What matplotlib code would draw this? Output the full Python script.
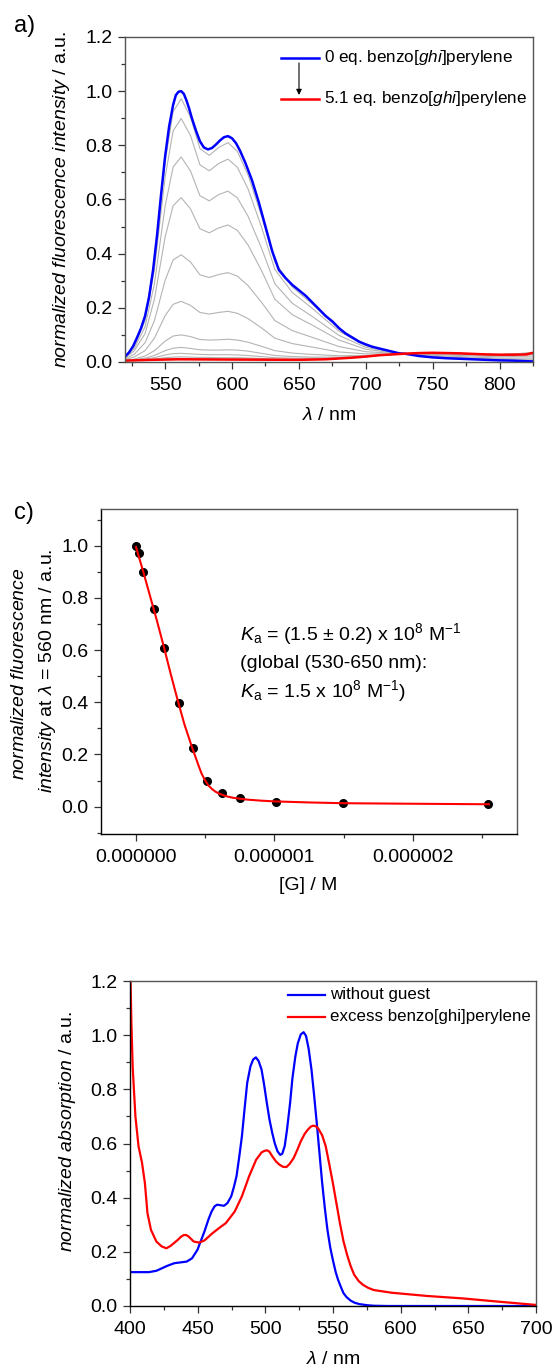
import matplotlib
matplotlib.use("Agg")
import matplotlib.pyplot as plt
from matplotlib.lines import Line2D
from matplotlib.ticker import MultipleLocator, FuncFormatter

plt.rcParams["font.family"] = ["Liberation Sans", "DejaVu Sans"]
plt.rcParams["mathtext.fontset"] = "custom"
plt.rcParams["mathtext.rm"] = "Liberation Sans"
plt.rcParams["mathtext.it"] = "Liberation Sans:italic"
plt.rcParams["mathtext.bf"] = "Liberation Sans:bold"
plt.rcParams["mathtext.sf"] = "Liberation Sans"

W, H = 558, 1371

# ---------------------------------------------------------------- panel a data
blue_wl = [520, 523, 526, 529, 532, 535, 538, 541, 544, 547, 550, 553, 556, 558, 560, 562,
           564, 566, 568, 570, 573, 576, 579, 582, 585, 588, 591, 594, 597, 600, 603, 606,
           610, 615, 620, 625, 630, 635, 640, 645, 650, 655, 660, 665, 670, 675, 680, 685,
           690, 695, 700, 705, 710, 715, 720, 725, 730, 740, 750, 760, 770, 780, 790, 800,
           810, 825]
blue_int = [0.02, 0.035, 0.058, 0.09, 0.125, 0.17, 0.24, 0.34, 0.47, 0.62, 0.76, 0.87, 0.95,
            0.985, 0.998, 1.0, 0.99, 0.965, 0.935, 0.9, 0.855, 0.815, 0.792, 0.785, 0.79,
            0.803, 0.818, 0.83, 0.834, 0.826, 0.808, 0.78, 0.735, 0.67, 0.59, 0.50, 0.41,
            0.34, 0.31, 0.285, 0.265, 0.245, 0.22, 0.195, 0.17, 0.15, 0.125, 0.105, 0.09,
            0.075, 0.065, 0.056, 0.05, 0.044, 0.038, 0.032, 0.03, 0.022, 0.017, 0.014, 0.012,
            0.01, 0.008, 0.006, 0.005, 0.002]

red_wl = [520, 540, 560, 600, 650, 670, 690, 700, 710, 720, 730, 740, 750, 760, 770, 780,
          790, 800, 810, 820, 825]
red_int = [0.005, 0.008, 0.01, 0.009, 0.008, 0.01, 0.016, 0.02, 0.025, 0.028, 0.031, 0.033,
           0.034, 0.033, 0.032, 0.03, 0.028, 0.027, 0.027, 0.028, 0.034]

gray_wl = [520, 527, 535, 542, 550, 556, 562, 569, 576, 583, 590, 597, 604, 612, 622, 632,
           645, 660, 680, 700, 725, 760, 800, 825]
gray_1 = [0.020, 0.063, 0.165, 0.370, 0.739, 0.924, 0.972, 0.904, 0.788, 0.763, 0.792, 0.810,
          0.778, 0.690, 0.540, 0.370, 0.277, 0.214, 0.122, 0.064, 0.032, 0.015, 0.007, 0.003]
gray_2 = [0.018, 0.059, 0.153, 0.342, 0.683, 0.854, 0.899, 0.836, 0.728, 0.706, 0.733, 0.749,
          0.719, 0.639, 0.499, 0.342, 0.257, 0.198, 0.114, 0.060, 0.032, 0.016, 0.008, 0.005]
gray_3 = [0.016, 0.051, 0.130, 0.289, 0.576, 0.720, 0.757, 0.705, 0.614, 0.595, 0.618, 0.631,
          0.606, 0.538, 0.421, 0.289, 0.217, 0.168, 0.098, 0.054, 0.031, 0.019, 0.011, 0.010]
gray_4 = [0.014, 0.042, 0.105, 0.232, 0.462, 0.577, 0.607, 0.565, 0.492, 0.477, 0.495, 0.506,
          0.486, 0.432, 0.338, 0.232, 0.175, 0.136, 0.081, 0.047, 0.031, 0.022, 0.014, 0.015]
gray_5 = [0.011, 0.029, 0.071, 0.153, 0.302, 0.377, 0.396, 0.369, 0.322, 0.312, 0.323, 0.330,
          0.317, 0.282, 0.221, 0.153, 0.116, 0.091, 0.057, 0.038, 0.031, 0.026, 0.019, 0.022]
gray_6 = [0.008, 0.019, 0.042, 0.088, 0.171, 0.213, 0.224, 0.209, 0.183, 0.177, 0.183, 0.187,
          0.180, 0.160, 0.126, 0.088, 0.068, 0.055, 0.037, 0.030, 0.030, 0.029, 0.022, 0.027]
gray_7 = [0.006, 0.011, 0.022, 0.042, 0.077, 0.096, 0.100, 0.094, 0.083, 0.081, 0.082, 0.084,
          0.081, 0.073, 0.058, 0.042, 0.033, 0.028, 0.023, 0.024, 0.030, 0.031, 0.025, 0.031]
gray_8 = [0.006, 0.009, 0.014, 0.024, 0.042, 0.051, 0.054, 0.050, 0.045, 0.044, 0.044, 0.045,
          0.044, 0.040, 0.032, 0.024, 0.020, 0.018, 0.018, 0.022, 0.030, 0.032, 0.026, 0.033]
gray_9 = [0.005, 0.007, 0.011, 0.016, 0.026, 0.031, 0.032, 0.030, 0.028, 0.027, 0.027, 0.027,
          0.026, 0.024, 0.020, 0.016, 0.014, 0.014, 0.015, 0.021, 0.030, 0.033, 0.027, 0.033]
gray_10 = [0.005, 0.006, 0.008, 0.011, 0.016, 0.018, 0.019, 0.018, 0.017, 0.017, 0.016, 0.016,
           0.016, 0.015, 0.013, 0.011, 0.010, 0.011, 0.014, 0.020, 0.030, 0.033, 0.027, 0.034]
gray_11 = [0.005, 0.006, 0.007, 0.009, 0.011, 0.013, 0.013, 0.013, 0.012, 0.012, 0.011, 0.011,
           0.011, 0.011, 0.010, 0.009, 0.009, 0.010, 0.013, 0.020, 0.030, 0.033, 0.027, 0.034]
gray_curves = [gray_1, gray_2, gray_3, gray_4, gray_5, gray_6, gray_7, gray_8, gray_9,
               gray_10, gray_11]

# ---------------------------------------------------------------- panel c data
guest_conc = [0.0, 0.02e-6, 0.054e-6, 0.128e-6, 0.20e-6, 0.308e-6, 0.413e-6, 0.515e-6,
              0.618e-6, 0.754e-6, 1.01e-6, 1.495e-6, 2.546e-6]
rel_int = [1.0, 0.972, 0.899, 0.757, 0.607, 0.396, 0.224, 0.100, 0.054, 0.032, 0.019,
           0.013, 0.009]
fit_conc = [0.0, 0.05e-6, 0.10e-6, 0.15e-6, 0.20e-6, 0.25e-6, 0.30e-6, 0.35e-6, 0.40e-6,
            0.45e-6, 0.475e-6, 0.50e-6, 0.525e-6, 0.55e-6, 0.575e-6, 0.60e-6, 0.65e-6,
            0.70e-6, 0.80e-6, 0.90e-6, 1.0e-6, 1.25e-6, 1.5e-6, 2.0e-6, 2.55e-6]
fit_int = [0.995, 0.905, 0.81, 0.715, 0.615, 0.51, 0.41, 0.315, 0.235, 0.16, 0.125, 0.10,
           0.08, 0.067, 0.057, 0.05, 0.04, 0.034, 0.027, 0.023, 0.02, 0.016, 0.013, 0.011,
           0.009]

# ---------------------------------------------------------------- panel b data
abs_wl_free = [400, 414, 419.5, 427.4, 432.7, 441.9, 445.8, 449.8, 455, 458, 460.3, 462.5,
               464.3, 467, 469.5, 472, 474.8, 476.8, 478.7, 480.7, 482.7, 484.6, 486.6, 489,
               491, 493, 495, 497.2, 499, 501.1, 503, 505.1, 507, 509, 511, 512.5, 514.3, 516,
               518.3, 520, 522.2, 524, 526.2, 528.3, 530.1, 532, 534.1, 536, 538, 540, 542,
               544, 545.9, 548, 549.9, 552, 553.8, 556, 557.8, 560, 563, 566, 569.6, 575, 580,
               590, 600, 700]
abs_free = [0.125, 0.125, 0.13, 0.148, 0.158, 0.164, 0.176, 0.207, 0.275, 0.32, 0.349, 0.368,
            0.374, 0.372, 0.37, 0.38, 0.405, 0.44, 0.479, 0.55, 0.627, 0.725, 0.824, 0.885,
            0.91, 0.918, 0.905, 0.873, 0.82, 0.75, 0.69, 0.639, 0.6, 0.571, 0.558, 0.562,
            0.59, 0.65, 0.75, 0.84, 0.922, 0.97, 1.003, 1.011, 0.997, 0.95, 0.873, 0.78,
            0.676, 0.565, 0.454, 0.36, 0.281, 0.215, 0.17, 0.125, 0.096, 0.068, 0.047, 0.033,
            0.02, 0.012, 0.007, 0.003, 0.001, 0.0, 0.0, 0.0]
abs_wl_guest = [400, 401, 402, 404, 406.3, 408.9, 411, 412.9, 415.5, 419.5, 423.4, 426.9, 430,
                435.3, 437.5, 439.8, 441.5, 443.2, 447.1, 451.1, 455, 460.3, 465.6, 470.8,
                477.4, 482.7, 488, 493.2, 497.2, 499, 501.1, 503, 505.1, 508, 510.4, 513,
                515.6, 518, 520.9, 523.5, 526.2, 529, 531.4, 533.5, 535.4, 537.5, 539.3, 542,
                544.6, 547, 549.9, 552.5, 555.1, 557.7, 560.4, 563, 565.7, 569, 572.2, 576,
                580.1, 593.3, 606.5, 619.6, 646, 672.3, 700]
abs_guest = [1.3, 1.05, 0.88, 0.70, 0.59, 0.528, 0.454, 0.343, 0.281, 0.238, 0.22, 0.213,
             0.222, 0.244, 0.255, 0.262, 0.262, 0.257, 0.238, 0.234, 0.242, 0.266, 0.287,
             0.306, 0.349, 0.405, 0.479, 0.54, 0.567, 0.572, 0.575, 0.57, 0.553, 0.533, 0.522,
             0.514, 0.513, 0.525, 0.546, 0.575, 0.608, 0.635, 0.651, 0.662, 0.666, 0.663,
             0.654, 0.63, 0.59, 0.53, 0.454, 0.38, 0.306, 0.24, 0.189, 0.148, 0.115, 0.092,
             0.078, 0.067, 0.059, 0.049, 0.043, 0.037, 0.028, 0.016, 0.004]

BLUE = "#0000ff"
RED = "#ff0000"
GRAY = "#b4b4b4"
FS = 14


def fpos(x, y):
    return x / W, 1 - y / H


def axes_px(left, top, right, bottom):
    return [left / W, 1 - bottom / H, (right - left) / W, (bottom - top) / H]


def style_axes(ax, spine_color="black"):
    for s in ax.spines.values():
        s.set_linewidth(1.0)
        s.set_color(spine_color)
    ax.tick_params(which="both", direction="out", top=False, right=False,
                   labelsize=FS, width=0.9, color="#333333")
    ax.tick_params(which="major", length=5, pad=4)
    ax.tick_params(which="minor", length=3)
    ax.tick_params(axis="x", which="major", pad=6)


fig = plt.figure(figsize=(W / 100, H / 100), dpi=100)

# ===================================================================== a)
ax_a = fig.add_axes(axes_px(125, 37, 533, 362))
for g in gray_curves:
    ax_a.plot(gray_wl, g, color=GRAY, lw=0.8)
ax_a.plot(blue_wl, blue_int, color=BLUE, lw=1.8)
ax_a.plot(red_wl, red_int, color=RED, lw=1.8)
ax_a.set_xlim(520, 825)
ax_a.set_ylim(0, 1.2)
ax_a.xaxis.set_major_locator(MultipleLocator(50))
ax_a.xaxis.set_minor_locator(MultipleLocator(25))
ax_a.yaxis.set_major_locator(MultipleLocator(0.2))
ax_a.yaxis.set_minor_locator(MultipleLocator(0.1))
ax_a.yaxis.set_major_formatter(FuncFormatter(lambda v, _: f"{v:.1f}"))
style_axes(ax_a, "#555555")

fig.text(*fpos(62, 199), r"$\it{normalized\ fluorescence\ intensity}$ / a.u.",
         rotation=90, ha="center", va="center", fontsize=FS)
fig.text(*fpos(329, 416), r"$\lambda$ / nm", ha="center", va="center", fontsize=FS)
fig.text(*fpos(25, 26), "a)", ha="center", va="center", fontsize=17)

# legend a (with arrow)
for yy, col in [(57.5, BLUE), (99, RED)]:
    x0, y0 = fpos(281, yy)
    x1, _ = fpos(318.5, yy)
    fig.add_artist(Line2D([x0, x1], [y0, y0], color=col, lw=1.8, transform=fig.transFigure))
fig.text(*fpos(324, 57.5), r"0 eq. benzo[$\it{ghi}$]perylene", ha="left", va="center",
         fontsize=12.3)
fig.text(*fpos(324, 99), r"5.1 eq. benzo[$\it{ghi}$]perylene", ha="left", va="center",
         fontsize=12.3)
fig.add_artist(plt.Annotation("", xy=fpos(299, 95), xytext=fpos(299, 63),
                              xycoords="figure fraction", textcoords="figure fraction",
                              arrowprops=dict(arrowstyle="-|>", color="black", lw=0.8,
                                              mutation_scale=8, shrinkA=0, shrinkB=0)))

# ===================================================================== c)
ax_c = fig.add_axes(axes_px(101, 509, 517, 834))
ax_c.plot(fit_conc, fit_int, color=RED, lw=1.5, zorder=3)
ax_c.plot(guest_conc, rel_int, "o", color="black", ms=5.5, zorder=2)
ax_c.set_xlim(-0.253e-6, 2.753e-6)
ax_c.set_ylim(-0.105, 1.141)
ax_c.xaxis.set_major_locator(MultipleLocator(1e-6))
ax_c.xaxis.set_minor_locator(MultipleLocator(0.5e-6))
ax_c.xaxis.set_major_formatter(FuncFormatter(lambda v, _: f"{v:.6f}"))
ax_c.yaxis.set_major_locator(MultipleLocator(0.2))
ax_c.yaxis.set_minor_locator(MultipleLocator(0.1))
ax_c.yaxis.set_major_formatter(FuncFormatter(lambda v, _: f"{v:.1f}"))
ax_c.xaxis.get_offset_text().set_visible(False)
style_axes(ax_c)
ax_c.spines["top"].set_color("#555555")
ax_c.spines["right"].set_color("#555555")

fig.text(*fpos(20, 674), r"$\it{normalized\ fluorescence}$", rotation=90,
         ha="center", va="center", fontsize=FS)
fig.text(*fpos(48, 671), r"$\it{intensity}$ at $\lambda$ = 560 nm / a.u.", rotation=90,
         ha="center", va="center", fontsize=FS)
fig.text(*fpos(308, 885), "[G] / M", ha="center", va="center", fontsize=FS)
fig.text(*fpos(24, 513), "c)", ha="center", va="center", fontsize=17)

fig.text(*fpos(240, 634), r"$K_\mathrm{a}$ = (1.5 ± 0.2) x 10$^8$ M$^{-1}$",
         ha="left", va="center", fontsize=FS)
fig.text(*fpos(240, 663), "(global (530-650 nm):", ha="left", va="center", fontsize=FS)
fig.text(*fpos(240, 691), r"$K_\mathrm{a}$ = 1.5 x 10$^8$ M$^{-1}$)",
         ha="left", va="center", fontsize=FS)

# ===================================================================== b)
ax_b = fig.add_axes(axes_px(130, 981, 536, 1306))
ax_b.plot(abs_wl_free, abs_free, color=BLUE, lw=1.6)
ax_b.plot(abs_wl_guest, abs_guest, color=RED, lw=1.6)
ax_b.set_xlim(400, 700)
ax_b.set_ylim(0, 1.2)
ax_b.xaxis.set_major_locator(MultipleLocator(50))
ax_b.xaxis.set_minor_locator(MultipleLocator(25))
ax_b.yaxis.set_major_locator(MultipleLocator(0.2))
ax_b.yaxis.set_minor_locator(MultipleLocator(0.1))
ax_b.yaxis.set_major_formatter(FuncFormatter(lambda v, _: f"{v:.1f}"))
style_axes(ax_b)
ax_b.spines["top"].set_color("#555555")
ax_b.spines["right"].set_color("#555555")

fig.text(*fpos(67, 1132), r"$\it{normalized\ absorption}$ / a.u.", rotation=90,
         ha="center", va="center", fontsize=FS)
fig.text(*fpos(333, 1360), r"$\lambda$ / nm", ha="center", va="center", fontsize=FS)

for yy, col, lab in [(995, BLUE, "without guest"), (1017, RED, "excess benzo[ghi]perylene")]:
    x0, y0 = fpos(287.5, yy)
    x1, _ = fpos(324.5, yy)
    fig.add_artist(Line2D([x0, x1], [y0, y0], color=col, lw=1.6, transform=fig.transFigure))
    fig.text(*fpos(330, yy), lab, ha="left", va="center", fontsize=12.2)

fig.savefig("out.png", dpi=100)
